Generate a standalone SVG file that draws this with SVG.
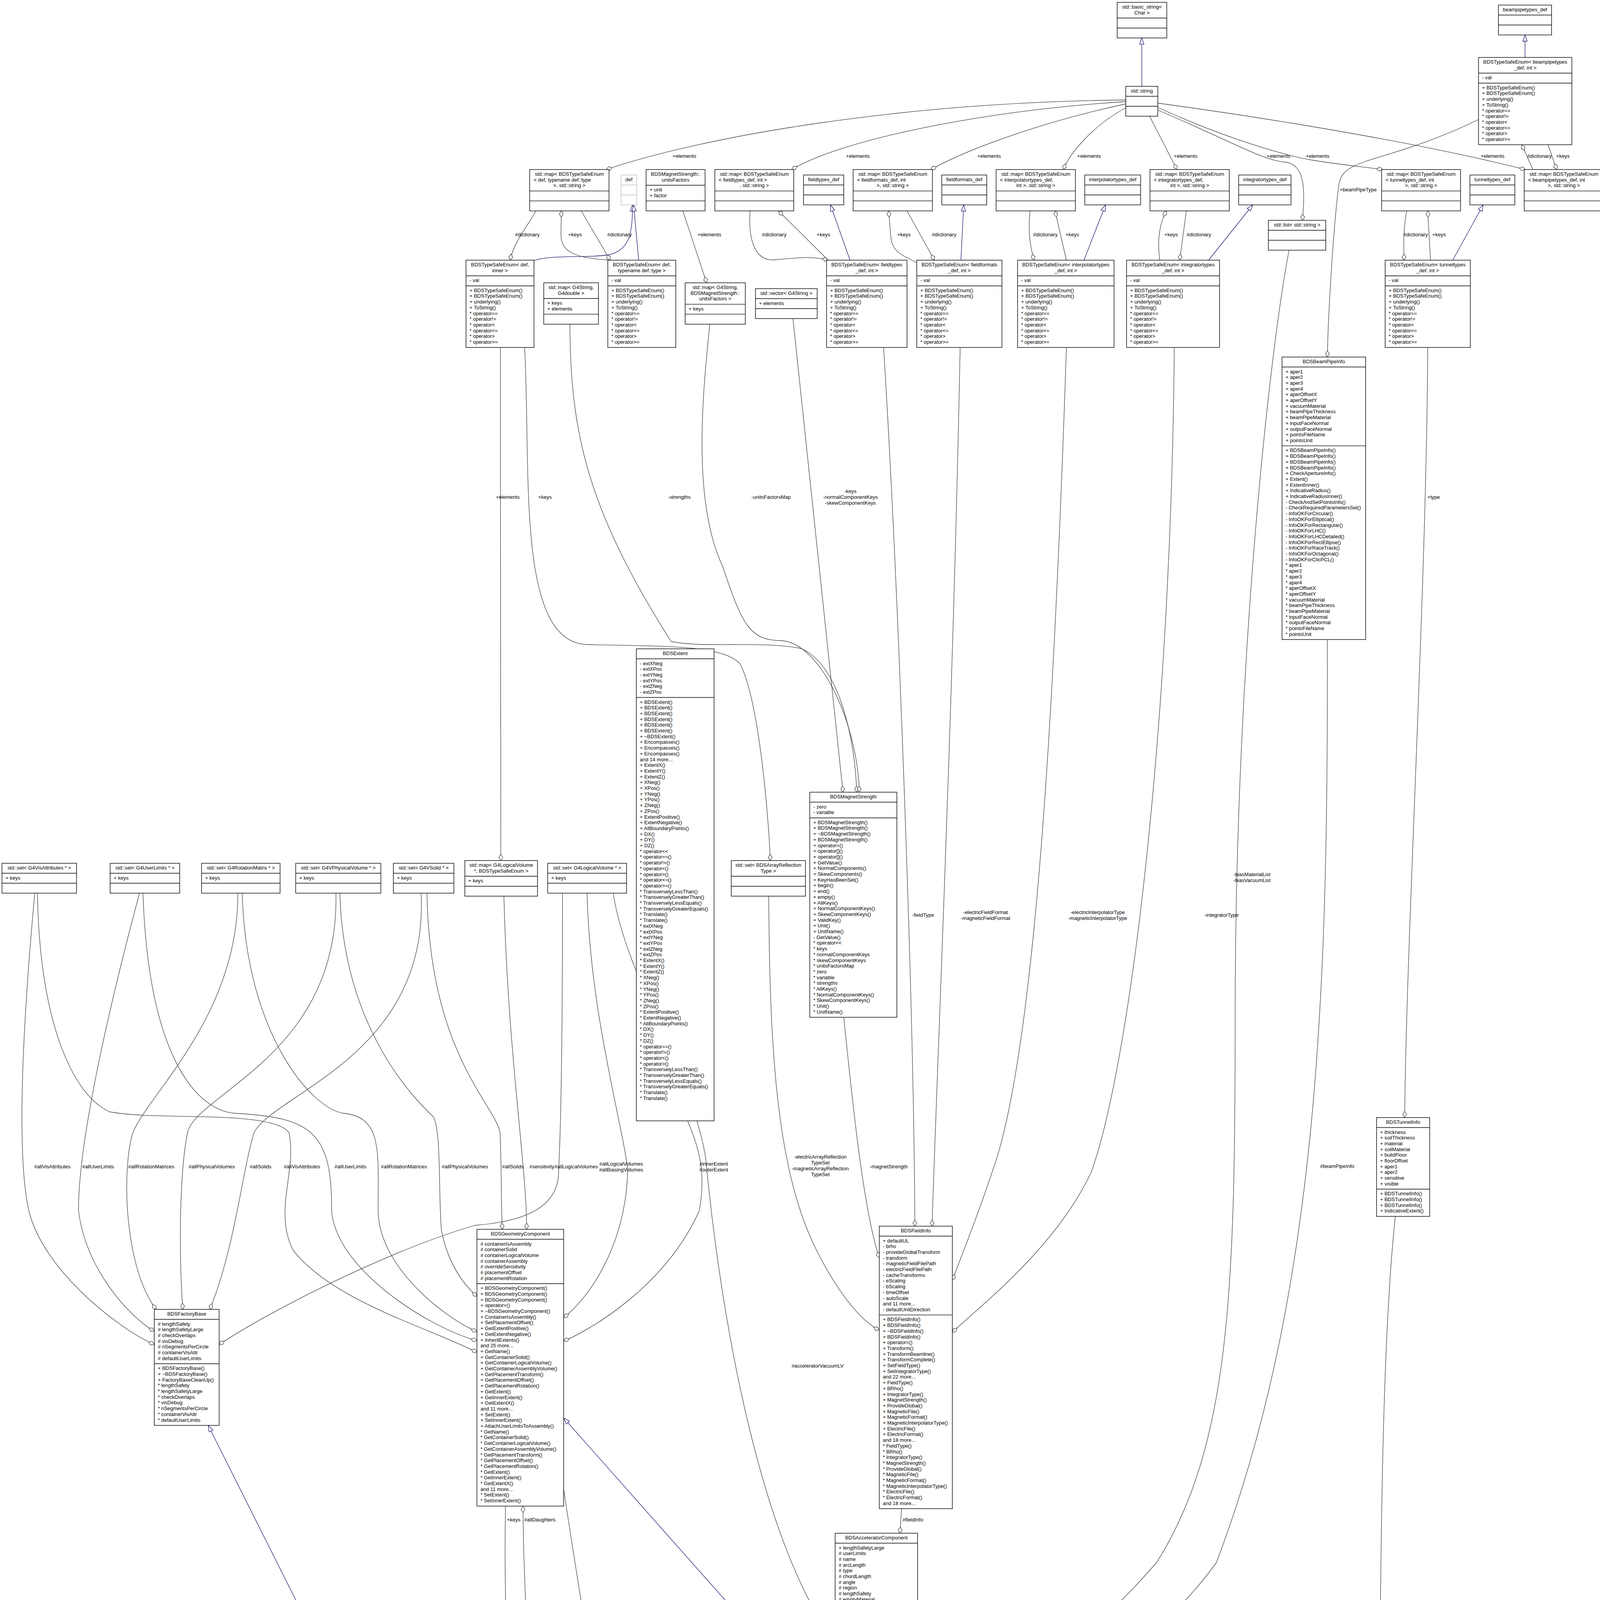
<svg xmlns="http://www.w3.org/2000/svg" width="4110" height="5988" viewBox="0 0 4110 5988">
<style>
.n{fill:#fff;stroke:#000;stroke-width:1.4}
.g{fill:#bfbfbf;stroke:#000;stroke-width:1.4}
.d{fill:#fff;stroke:#bfbfbf;stroke-width:1.4}
.s{stroke:#000;stroke-width:1.4}
.sd{stroke:#bfbfbf;stroke-width:1.4}
text{font-family:"Liberation Sans",Arial,Helvetica,sans-serif;font-size:13px;fill:#000}
.m{text-anchor:middle}
.a{fill:none;stroke:#404040;stroke-width:1.3;marker-end:url(#dia)}
.h{fill:none;stroke:#191970;stroke-width:1.3;marker-end:url(#tri)}
</style>
<defs>
<marker id="dia" markerUnits="userSpaceOnUse" markerWidth="18" markerHeight="12" refX="16" refY="5" orient="auto" style="overflow:visible"><path d="M0,5 L8,0 L16,5 L8,10 Z" fill="#fff" stroke="#404040" stroke-width="1.3"/></marker>
<marker id="tri" markerUnits="userSpaceOnUse" markerWidth="18" markerHeight="12" refX="16" refY="5.5" orient="auto" style="overflow:visible"><path d="M0,0 L16,5.5 L0,11 Z" fill="#fff" stroke="#191970" stroke-width="1.3"/></marker>
</defs>
<rect x="0" y="0" width="4110" height="5988" fill="#fff"/>

<g id="connectors">
<path class="h" d="M2923,221 L2923,97.2"/>
<path class="h" d="M3904,147 L3904,89.5"/>
<path class="h" d="M1362,668 C1420,650 1500,662 1560,652 C1610,640 1620,600 1619,524.5"/>
<path class="h" d="M1635,666 L1622,524.5"/>
<path class="h" d="M2176,666 L2126,524.5"/>
<path class="h" d="M2460,666 L2467,524.5"/>
<path class="h" d="M2775,666 L2830,524.5"/>
<path class="h" d="M3094,666 L3207,524.5"/>
<path class="h" d="M3719,666 L3797,524.5"/>
<path class="h" d="M2138,4414 L1443,3630"/>
<path class="h" d="M1912,5225 L2138,4762"/>
<path class="h" d="M2276,5240 C2282,5200 2283,5175 2283,5148"/>
<path class="h" d="M1517,5611 L533,3649"/>
<path class="a" d="M2882,256 C2300,262 1800,350 1552,434"/>
<path class="a" d="M2882,260 C2500,285 2150,360 2027,434"/>
<path class="a" d="M2882,266 C2700,305 2500,370 2383,434"/>
<path class="a" d="M2882,276 C2800,320 2740,390 2722,434"/>
<path class="a" d="M2943,297.5 L3013,434"/>
<path class="a" d="M2964,282 C3150,360 3230,410 3290,415 C3345,420 3340,500 3334,564"/>
<path class="a" d="M2964,275 C3150,360 3300,400 3360,410 C3420,420 3470,425 3540,434"/>
<path class="a" d="M2964,264 C3300,310 3650,370 3905,434"/>
<path class="a" d="M1372,540 C1350,580 1315,620 1306,666"/>
<path class="a" d="M1560,666 C1480,660 1436,650 1436,600 L1437,540"/>
<path class="a" d="M1488,540 L1562,666"/>
<path class="a" d="M1920,540 C1915,620 1935,670 1985,665 C2040,660 2080,655 2120,666"/>
<path class="a" d="M2120,666 L1993,540"/>
<path class="a" d="M2349,673 C2300,650 2282,640 2280,600 L2275,540"/>
<path class="a" d="M2322,540 L2392,666"/>
<path class="a" d="M2637,540 C2630,600 2640,640 2647,666"/>
<path class="a" d="M2730,666 L2701,540"/>
<path class="a" d="M2969,666 C2960,600 2975,560 2986,540"/>
<path class="a" d="M3037,540 L3020,666"/>
<path class="a" d="M3601,540 C3590,600 3595,640 3594,666"/>
<path class="a" d="M3662,666 L3655,540"/>
<path class="a" d="M3924,434 L3896,370.5"/>
<path class="a" d="M3963,370.5 L3985,434"/>
<path class="a" d="M3785,306 C3550,420 3440,400 3428,470 C3415,560 3400,800 3398,914"/>
<path class="a" d="M1748,540 L1809,724"/>
<path class="a" d="M1281,889.5 L1282,2203"/>
<path class="a" d="M1343,889.5 C1360,1200 1320,1640 1500,1650 C1700,1655 1850,1650 1895,1700 C1945,1800 1968,2100 1972,2203"/>
<path class="a" d="M1459,830 C1460,1100 1500,1300 1718,1642 C1800,1660 1950,1640 2050,1660 C2150,1700 2190,1900 2193,2028"/>
<path class="a" d="M1817,830 C1800,1000 1770,1280 1850,1450 C1900,1600 1920,1640 2000,1640 C2100,1645 2195,1850 2200,2028"/>
<path class="a" d="M2030,816 L2158,2028"/>
<path class="a" d="M2262,889.5 C2300,1500 2340,2600 2342,3139"/>
<path class="a" d="M2458,889.5 C2440,1800 2400,2700 2386,3139"/>
<path class="a" d="M2730,889.5 C2700,1800 2650,2700 2540,3000 C2500,3120 2460,3220 2438,3277"/>
<path class="a" d="M3006,889.5 C3000,1800 2900,2700 2794,3000 C2700,3200 2500,3350 2438,3411"/>
<path class="a" d="M2160,2604 C2180,2800 2210,3100 2251,3220"/>
<path class="a" d="M1968,2294 C1970,2700 1990,3000 2090,3200 C2140,3300 2200,3380 2251,3405"/>
<path class="a" d="M3300,640.5 C3250,900 3162,1700 3162,2600 C3162,3300 3150,3700 2961,4000 C2700,4300 2450,4420 2349,4475"/>
<path class="a" d="M3398,1637 C3400,2500 3380,3300 3114,4000 C2900,4300 2500,4450 2349,4494"/>
<path class="a" d="M3655,889.5 C3652,1500 3600,2400 3596,2861"/>
<path class="a" d="M3572,3114 C3520,3600 3540,4600 3520,4980 C3490,5400 3000,5680 2500,5708 C2100,5730 1900,5740 1735,5746"/>
<path class="a" d="M89,2287 C60,2600 40,2950 74,3100 C110,3250 300,3400 395,3442"/>
<path class="a" d="M357,2287 C300,2500 200,2900 201,3100 C220,3250 330,3370 395,3408"/>
<path class="a" d="M609,2287 C610,2600 380,2800 340,2900 C310,3000 320,3250 400,3352"/>
<path class="a" d="M860,2287 C870,2700 500,2800 480,2900 C460,3000 457,3200 468,3352"/>
<path class="a" d="M1078,2287 C1100,2700 700,2800 650,2900 C620,3000 600,3200 537,3352"/>
<path class="a" d="M1440,2287 C1440,2700 1435,2900 1430,3000 C1430,3110 1300,3130 1215,3137 C1000,3200 700,3350 561,3442"/>
<path class="a" d="M96,2287 C100,2600 180,2800 280,2846 C400,2870 700,2840 740,2900 C760,3000 700,3100 750,3200 C850,3330 1100,3400 1221,3462"/>
<path class="a" d="M366,2287 C380,2700 500,2840 600,2850 C800,2860 850,2900 849,3100 C860,3250 1100,3400 1221,3432"/>
<path class="a" d="M620,2287 C630,2650 800,2840 880,2850 C980,2860 968,2950 968,3100 C970,3250 1150,3380 1221,3409"/>
<path class="a" d="M870,2287 C880,2650 1080,2830 1110,2860 C1130,2900 1122,3050 1130,3150 C1150,3250 1200,3300 1221,3319"/>
<path class="a" d="M1093,2287 C1100,2700 1270,2830 1280,2900 C1285,3000 1282,3080 1286,3147"/>
<path class="a" d="M1290,2294 C1300,2700 1350,3000 1348,3147"/>
<path class="a" d="M1503,2287 C1510,2600 1600,2900 1607,3000 C1600,3200 1500,3330 1443,3373"/>
<path class="a" d="M1760,2869 C1790,2940 1808,3000 1790,3100 C1700,3300 1500,3410 1443,3433"/>
<path class="a" d="M1570,2287 C1600,2500 1800,2800 1810,3000 C1850,3400 1950,3950 2138,4206"/>
<path class="a" d="M2308,3862 L2304,3925"/>
<path class="a" d="M1294,3856 C1290,4100 1300,4300 1305,4400"/>
<path class="a" d="M1360,4400 C1350,4200 1339,4000 1339,3856"/>
<path class="a" d="M1443,3812 C1500,4200 1580,4600 1600,5000 C1612,5300 1620,5450 1621,5499"/>
<path class="a" d="M1803,5434 L1737,5548"/>
<path class="a" d="M2195,5240 C2185,5200 2185,5175 2185,5148"/>
<text class="m" x="1752" y="404">+elements</text>
<text class="m" x="2196" y="404">+elements</text>
<text class="m" x="2532" y="404">+elements</text>
<text class="m" x="2788" y="404">+elements</text>
<text class="m" x="3035" y="404">+elements</text>
<text class="m" x="3273" y="404">+elements</text>
<text class="m" x="3373" y="404">+elements</text>
<text class="m" x="3821" y="404">+elements</text>
<text class="m" x="3941" y="404">#dictionary</text>
<text class="m" x="4001" y="404">+keys</text>
<text class="m" x="3477" y="490">+beamPipeType</text>
<text class="m" x="1350" y="605">#dictionary</text>
<text class="m" x="1472" y="605">+keys</text>
<text class="m" x="1586" y="605">#dictionary</text>
<text class="m" x="1816" y="605">+elements</text>
<text class="m" x="1982" y="605">#dictionary</text>
<text class="m" x="2108" y="605">+keys</text>
<text class="m" x="2314" y="605">+keys</text>
<text class="m" x="2417" y="605">#dictionary</text>
<text class="m" x="2676" y="605">#dictionary</text>
<text class="m" x="2745" y="605">+keys</text>
<text class="m" x="2998" y="605">+keys</text>
<text class="m" x="3069" y="605">#dictionary</text>
<text class="m" x="3624" y="605">#dictionary</text>
<text class="m" x="3684" y="605">+keys</text>
<text class="m" x="1300" y="1277">+elements</text>
<text class="m" x="1395" y="1277">+keys</text>
<text class="m" x="1739" y="1277">-strengths</text>
<text class="m" x="1974" y="1277">-unitsFactorsMap</text>
<text class="m" x="2177" y="1262">-keys</text>
<text class="m" x="2177" y="1277">-normalComponentKeys</text>
<text class="m" x="2177" y="1292">-skewComponentKeys</text>
<text class="m" x="3670" y="1277">+type</text>
<text class="m" x="3205" y="2243">-biasMaterialList</text>
<text class="m" x="3205" y="2258">-biasVacuumList</text>
<text class="m" x="2363" y="2347">-fieldType</text>
<text class="m" x="2523" y="2340">-electricFieldFormat</text>
<text class="m" x="2523" y="2355">-magneticFieldFormat</text>
<text class="m" x="2810" y="2340">-electricInterpolatorType</text>
<text class="m" x="2810" y="2355">-magneticInterpolatorType</text>
<text class="m" x="3127" y="2347">-integratorType</text>
<text class="m" x="134" y="2991">#allVisAttributes</text>
<text class="m" x="251" y="2991">#allUserLimits</text>
<text class="m" x="387" y="2991">#allRotationMatrices</text>
<text class="m" x="542" y="2991">#allPhysicalVolumes</text>
<text class="m" x="667" y="2991">#allSolids</text>
<text class="m" x="773" y="2991">#allVisAttributes</text>
<text class="m" x="897" y="2991">#allUserLimits</text>
<text class="m" x="1034" y="2991">#allRotationMatrices</text>
<text class="m" x="1190" y="2991">#allPhysicalVolumes</text>
<text class="m" x="1313" y="2991">#allSolids</text>
<text class="m" x="1387" y="2991">#sensitivity</text>
<text class="m" x="1475" y="2991">#allLogicalVolumes</text>
<text class="m" x="1590" y="2984">#allLogicalVolumes</text>
<text class="m" x="1590" y="2999">#allBiasingVolumes</text>
<text class="m" x="1827" y="2984">#innerExtent</text>
<text class="m" x="1827" y="2999">#outerExtent</text>
<text class="m" x="2100" y="2966">-electricArrayReflection</text>
<text class="m" x="2100" y="2981">TypeSet</text>
<text class="m" x="2100" y="2996">-magneticArrayReflection</text>
<text class="m" x="2100" y="3011">TypeSet</text>
<text class="m" x="2275" y="2991">-magnetStrength</text>
<text class="m" x="3423" y="2990">#beamPipeInfo</text>
<text class="m" x="2093" y="3501">#acceleratorVacuumLV</text>
<text class="m" x="2337" y="3895">#fieldInfo</text>
<text class="m" x="1315" y="3895">+keys</text>
<text class="m" x="1382" y="3895">#allDaughters</text>
<text class="m" x="3580" y="4974">#defaultModel</text>
<text class="m" x="1670" y="5188">#tunnelComponent</text>
<text class="m" x="2237" y="5180">#endPieceAfter</text>
<text class="m" x="2237" y="5195">#endPieceBefore</text>
<text class="m" x="1833" y="5470">#tunnelSection</text>
</g>

<g id="basic_string">
<rect class="n" x="2860" y="6" width="127" height="91.2"/>
<line class="s" x1="2860" y1="46.2" x2="2987" y2="46.2"/><line class="s" x1="2860" y1="71.7" x2="2987" y2="71.7"/>
<text class="m" x="2923.5" y="22">std::basic_string&lt;</text><text class="m" x="2923.5" y="36.7">Char &gt;</text>
</g>
<g id="beampipetypes_def">
<rect class="n" x="3836" y="13" width="136" height="76.5"/>
<line class="s" x1="3836" y1="38.5" x2="3972" y2="38.5"/><line class="s" x1="3836" y1="64" x2="3972" y2="64"/>
<text class="m" x="3904" y="29">beampipetypes_def</text>
</g>
<g id="std_string">
<rect class="n" x="2882" y="221" width="82" height="76.5"/>
<line class="s" x1="2882" y1="246.5" x2="2964" y2="246.5"/><line class="s" x1="2882" y1="272" x2="2964" y2="272"/>
<text class="m" x="2923" y="237">std::string</text>
</g>
<g id="tse_beampipe">
<rect class="n" x="3785" y="147" width="239" height="223.5"/>
<line class="s" x1="3785" y1="187.2" x2="4024" y2="187.2"/><line class="s" x1="3785" y1="212.7" x2="4024" y2="212.7"/>
<text class="m" x="3904.5" y="163">BDSTypeSafeEnum&lt; beampipetypes</text><text class="m" x="3904.5" y="177.7">_def, int &gt;</text>
<text x="3794" y="203.2">- val</text>
<text x="3794" y="228.7">+ BDSTypeSafeEnum()<tspan x="3794" dy="14.7">+ BDSTypeSafeEnum()</tspan><tspan x="3794" dy="14.7">+ underlying()</tspan><tspan x="3794" dy="14.7">+ ToString()</tspan><tspan x="3794" dy="14.7">* operator==</tspan><tspan x="3794" dy="14.7">* operator!=</tspan><tspan x="3794" dy="14.7">* operator&lt;</tspan><tspan x="3794" dy="14.7">* operator&lt;=</tspan><tspan x="3794" dy="14.7">* operator&gt;</tspan><tspan x="3794" dy="14.7">* operator&gt;=</tspan></text>
</g>

<g id="map_def">
<rect class="n" x="1356" y="434" width="203" height="105.9"/>
<line class="s" x1="1356" y1="488.9" x2="1559" y2="488.9"/><line class="s" x1="1356" y1="514.4" x2="1559" y2="514.4"/>
<text class="m" x="1457.5" y="450">std::map&lt; BDSTypeSafeEnum</text><text x="1366" y="464.7">&lt; def, typename def::type</text><text class="m" x="1457.5" y="479.4">&gt;, std::string &gt;</text>
</g>
<g id="def">
<rect class="d" x="1590" y="448" width="40" height="76.5"/>
<line class="sd" x1="1590" y1="473.5" x2="1630" y2="473.5"/><line class="sd" x1="1590" y1="499" x2="1630" y2="499"/>
<text class="m" x="1610" y="464">def</text>
</g>
<g id="unitsFactors">
<rect class="n" x="1654" y="434" width="151" height="105.9"/>
<line class="s" x1="1654" y1="474.2" x2="1805" y2="474.2"/><line class="s" x1="1654" y1="514.4" x2="1805" y2="514.4"/>
<text class="m" x="1729.5" y="450">BDSMagnetStrength::</text><text class="m" x="1729.5" y="464.7">unitsFactors</text>
<text x="1663" y="490.2">+ unit<tspan x="1663" dy="14.7">+ factor</tspan></text>
</g>
<g id="map_fieldtypes">
<rect class="n" x="1830" y="434" width="202" height="105.9"/>
<line class="s" x1="1830" y1="488.9" x2="2032" y2="488.9"/><line class="s" x1="1830" y1="514.4" x2="2032" y2="514.4"/>
<text class="m" x="1931" y="450">std::map&lt; BDSTypeSafeEnum</text><text x="1840" y="464.7">&lt; fieldtypes_def, int &gt;</text><text class="m" x="1931" y="479.4">, std::string &gt;</text>
</g>
<g id="fieldtypes_def">
<rect class="n" x="2057" y="448" width="103" height="76.5"/>
<line class="s" x1="2057" y1="473.5" x2="2160" y2="473.5"/><line class="s" x1="2057" y1="499" x2="2160" y2="499"/>
<text class="m" x="2108.5" y="464">fieldtypes_def</text>
</g>
<g id="map_fieldformats">
<rect class="n" x="2184" y="434" width="203" height="105.9"/>
<line class="s" x1="2184" y1="488.9" x2="2387" y2="488.9"/><line class="s" x1="2184" y1="514.4" x2="2387" y2="514.4"/>
<text class="m" x="2285.5" y="450">std::map&lt; BDSTypeSafeEnum</text><text x="2194" y="464.7">&lt; fieldformats_def, int</text><text class="m" x="2285.5" y="479.4">&gt;, std::string &gt;</text>
</g>
<g id="fieldformats_def">
<rect class="n" x="2411" y="448" width="115" height="76.5"/>
<line class="s" x1="2411" y1="473.5" x2="2526" y2="473.5"/><line class="s" x1="2411" y1="499" x2="2526" y2="499"/>
<text class="m" x="2468.5" y="464">fieldformats_def</text>
</g>
<g id="map_interp">
<rect class="n" x="2550" y="434" width="203" height="105.9"/>
<line class="s" x1="2550" y1="488.9" x2="2753" y2="488.9"/><line class="s" x1="2550" y1="514.4" x2="2753" y2="514.4"/>
<text class="m" x="2651.5" y="450">std::map&lt; BDSTypeSafeEnum</text><text x="2560" y="464.7">&lt; interpolatortypes_def,</text><text class="m" x="2651.5" y="479.4">int &gt;, std::string &gt;</text>
</g>
<g id="interpolatortypes_def">
<rect class="n" x="2777" y="448" width="143" height="76.5"/>
<line class="s" x1="2777" y1="473.5" x2="2920" y2="473.5"/><line class="s" x1="2777" y1="499" x2="2920" y2="499"/>
<text class="m" x="2848.5" y="464">interpolatortypes_def</text>
</g>
<g id="map_integ">
<rect class="n" x="2944" y="434" width="203" height="105.9"/>
<line class="s" x1="2944" y1="488.9" x2="3147" y2="488.9"/><line class="s" x1="2944" y1="514.4" x2="3147" y2="514.4"/>
<text class="m" x="3045.5" y="450">std::map&lt; BDSTypeSafeEnum</text><text x="2954" y="464.7">&lt; integratortypes_def,</text><text class="m" x="3045.5" y="479.4">int &gt;, std::string &gt;</text>
</g>
<g id="integratortypes_def">
<rect class="n" x="3171" y="448" width="134" height="76.5"/>
<line class="s" x1="3171" y1="473.5" x2="3305" y2="473.5"/><line class="s" x1="3171" y1="499" x2="3305" y2="499"/>
<text class="m" x="3238" y="464">integratortypes_def</text>
</g>
<g id="list_string">
<rect class="n" x="3247" y="564" width="147" height="76.5"/>
<line class="s" x1="3247" y1="589.5" x2="3394" y2="589.5"/><line class="s" x1="3247" y1="615" x2="3394" y2="615"/>
<text class="m" x="3320.5" y="580">std::list&lt; std::string &gt;</text>
</g>
<g id="map_tunnel">
<rect class="n" x="3537" y="434" width="202" height="105.9"/>
<line class="s" x1="3537" y1="488.9" x2="3739" y2="488.9"/><line class="s" x1="3537" y1="514.4" x2="3739" y2="514.4"/>
<text class="m" x="3638" y="450">std::map&lt; BDSTypeSafeEnum</text><text x="3547" y="464.7">&lt; tunneltypes_def, int</text><text class="m" x="3638" y="479.4">&gt;, std::string &gt;</text>
</g>
<g id="tunneltypes_def">
<rect class="n" x="3763" y="448" width="115" height="76.5"/>
<line class="s" x1="3763" y1="473.5" x2="3878" y2="473.5"/><line class="s" x1="3763" y1="499" x2="3878" y2="499"/>
<text class="m" x="3820.5" y="464">tunneltypes_def</text>
</g>
<g id="map_beampipe">
<rect class="n" x="3902" y="434" width="203" height="105.9"/>
<line class="s" x1="3902" y1="488.9" x2="4105" y2="488.9"/><line class="s" x1="3902" y1="514.4" x2="4105" y2="514.4"/>
<text class="m" x="4003.5" y="450">std::map&lt; BDSTypeSafeEnum</text><text x="3912" y="464.7">&lt; beampipetypes_def, int</text><text class="m" x="4003.5" y="479.4">&gt;, std::string &gt;</text>
</g>

<g id="tse_inner">
<rect class="n" x="1193" y="666" width="174" height="223.5"/>
<line class="s" x1="1193" y1="706.2" x2="1367" y2="706.2"/><line class="s" x1="1193" y1="731.7" x2="1367" y2="731.7"/>
<text class="m" x="1280" y="682">BDSTypeSafeEnum&lt; def,</text><text class="m" x="1280" y="696.7">inner &gt;</text>
<text x="1202" y="722.2">- val</text>
<text x="1202" y="747.7">+ BDSTypeSafeEnum()<tspan x="1202" dy="14.7">+ BDSTypeSafeEnum()</tspan><tspan x="1202" dy="14.7">+ underlying()</tspan><tspan x="1202" dy="14.7">+ ToString()</tspan><tspan x="1202" dy="14.7">* operator==</tspan><tspan x="1202" dy="14.7">* operator!=</tspan><tspan x="1202" dy="14.7">* operator&lt;</tspan><tspan x="1202" dy="14.7">* operator&lt;=</tspan><tspan x="1202" dy="14.7">* operator&gt;</tspan><tspan x="1202" dy="14.7">* operator&gt;=</tspan></text>
</g>
<g id="tse_def">
<rect class="n" x="1556" y="666" width="174" height="223.5"/>
<line class="s" x1="1556" y1="706.2" x2="1730" y2="706.2"/><line class="s" x1="1556" y1="731.7" x2="1730" y2="731.7"/>
<text class="m" x="1643" y="682">BDSTypeSafeEnum&lt; def,</text><text class="m" x="1643" y="696.7">typename def::type &gt;</text>
<text x="1565" y="722.2">- val</text>
<text x="1565" y="747.7">+ BDSTypeSafeEnum()<tspan x="1565" dy="14.7">+ BDSTypeSafeEnum()</tspan><tspan x="1565" dy="14.7">+ underlying()</tspan><tspan x="1565" dy="14.7">+ ToString()</tspan><tspan x="1565" dy="14.7">* operator==</tspan><tspan x="1565" dy="14.7">* operator!=</tspan><tspan x="1565" dy="14.7">* operator&lt;</tspan><tspan x="1565" dy="14.7">* operator&lt;=</tspan><tspan x="1565" dy="14.7">* operator&gt;</tspan><tspan x="1565" dy="14.7">* operator&gt;=</tspan></text>
</g>
<g id="tse_fieldtypes">
<rect class="n" x="2116" y="666" width="206" height="223.5"/>
<line class="s" x1="2116" y1="706.2" x2="2322" y2="706.2"/><line class="s" x1="2116" y1="731.7" x2="2322" y2="731.7"/>
<text class="m" x="2219" y="682">BDSTypeSafeEnum&lt; fieldtypes</text><text class="m" x="2219" y="696.7">_def, int &gt;</text>
<text x="2125" y="722.2">- val</text>
<text x="2125" y="747.7">+ BDSTypeSafeEnum()<tspan x="2125" dy="14.7">+ BDSTypeSafeEnum()</tspan><tspan x="2125" dy="14.7">+ underlying()</tspan><tspan x="2125" dy="14.7">+ ToString()</tspan><tspan x="2125" dy="14.7">* operator==</tspan><tspan x="2125" dy="14.7">* operator!=</tspan><tspan x="2125" dy="14.7">* operator&lt;</tspan><tspan x="2125" dy="14.7">* operator&lt;=</tspan><tspan x="2125" dy="14.7">* operator&gt;</tspan><tspan x="2125" dy="14.7">* operator&gt;=</tspan></text>
</g>
<g id="tse_fieldformats">
<rect class="n" x="2347" y="666" width="218" height="223.5"/>
<line class="s" x1="2347" y1="706.2" x2="2565" y2="706.2"/><line class="s" x1="2347" y1="731.7" x2="2565" y2="731.7"/>
<text class="m" x="2456" y="682">BDSTypeSafeEnum&lt; fieldformats</text><text class="m" x="2456" y="696.7">_def, int &gt;</text>
<text x="2356" y="722.2">- val</text>
<text x="2356" y="747.7">+ BDSTypeSafeEnum()<tspan x="2356" dy="14.7">+ BDSTypeSafeEnum()</tspan><tspan x="2356" dy="14.7">+ underlying()</tspan><tspan x="2356" dy="14.7">+ ToString()</tspan><tspan x="2356" dy="14.7">* operator==</tspan><tspan x="2356" dy="14.7">* operator!=</tspan><tspan x="2356" dy="14.7">* operator&lt;</tspan><tspan x="2356" dy="14.7">* operator&lt;=</tspan><tspan x="2356" dy="14.7">* operator&gt;</tspan><tspan x="2356" dy="14.7">* operator&gt;=</tspan></text>
</g>
<g id="tse_interp">
<rect class="n" x="2605" y="666" width="247" height="223.5"/>
<line class="s" x1="2605" y1="706.2" x2="2852" y2="706.2"/><line class="s" x1="2605" y1="731.7" x2="2852" y2="731.7"/>
<text class="m" x="2728.5" y="682">BDSTypeSafeEnum&lt; interpolatortypes</text><text class="m" x="2728.5" y="696.7">_def, int &gt;</text>
<text x="2614" y="722.2">- val</text>
<text x="2614" y="747.7">+ BDSTypeSafeEnum()<tspan x="2614" dy="14.7">+ BDSTypeSafeEnum()</tspan><tspan x="2614" dy="14.7">+ underlying()</tspan><tspan x="2614" dy="14.7">+ ToString()</tspan><tspan x="2614" dy="14.7">* operator==</tspan><tspan x="2614" dy="14.7">* operator!=</tspan><tspan x="2614" dy="14.7">* operator&lt;</tspan><tspan x="2614" dy="14.7">* operator&lt;=</tspan><tspan x="2614" dy="14.7">* operator&gt;</tspan><tspan x="2614" dy="14.7">* operator&gt;=</tspan></text>
</g>
<g id="tse_integ">
<rect class="n" x="2884" y="666" width="238" height="223.5"/>
<line class="s" x1="2884" y1="706.2" x2="3122" y2="706.2"/><line class="s" x1="2884" y1="731.7" x2="3122" y2="731.7"/>
<text class="m" x="3003" y="682">BDSTypeSafeEnum&lt; integratortypes</text><text class="m" x="3003" y="696.7">_def, int &gt;</text>
<text x="2893" y="722.2">- val</text>
<text x="2893" y="747.7">+ BDSTypeSafeEnum()<tspan x="2893" dy="14.7">+ BDSTypeSafeEnum()</tspan><tspan x="2893" dy="14.7">+ underlying()</tspan><tspan x="2893" dy="14.7">+ ToString()</tspan><tspan x="2893" dy="14.7">* operator==</tspan><tspan x="2893" dy="14.7">* operator!=</tspan><tspan x="2893" dy="14.7">* operator&lt;</tspan><tspan x="2893" dy="14.7">* operator&lt;=</tspan><tspan x="2893" dy="14.7">* operator&gt;</tspan><tspan x="2893" dy="14.7">* operator&gt;=</tspan></text>
</g>
<g id="tse_tunnel">
<rect class="n" x="3546" y="666" width="218" height="223.5"/>
<line class="s" x1="3546" y1="706.2" x2="3764" y2="706.2"/><line class="s" x1="3546" y1="731.7" x2="3764" y2="731.7"/>
<text class="m" x="3655" y="682">BDSTypeSafeEnum&lt; tunneltypes</text><text class="m" x="3655" y="696.7">_def, int &gt;</text>
<text x="3555" y="722.2">- val</text>
<text x="3555" y="747.7">+ BDSTypeSafeEnum()<tspan x="3555" dy="14.7">+ BDSTypeSafeEnum()</tspan><tspan x="3555" dy="14.7">+ underlying()</tspan><tspan x="3555" dy="14.7">+ ToString()</tspan><tspan x="3555" dy="14.7">* operator==</tspan><tspan x="3555" dy="14.7">* operator!=</tspan><tspan x="3555" dy="14.7">* operator&lt;</tspan><tspan x="3555" dy="14.7">* operator&lt;=</tspan><tspan x="3555" dy="14.7">* operator&gt;</tspan><tspan x="3555" dy="14.7">* operator&gt;=</tspan></text>
</g>

<g id="map_g4double">
<rect class="n" x="1392" y="724" width="140" height="105.9"/>
<line class="s" x1="1392" y1="764.2" x2="1532" y2="764.2"/><line class="s" x1="1392" y1="804.4" x2="1532" y2="804.4"/>
<text class="m" x="1462" y="740">std::map&lt; G4String,</text><text class="m" x="1462" y="754.7">G4double &gt;</text>
<text x="1401" y="780.2">+ keys<tspan x="1401" dy="14.7">+ elements</tspan></text>
</g>
<g id="map_unitsfactors">
<rect class="n" x="1754" y="724" width="154" height="105.9"/>
<line class="s" x1="1754" y1="778.9" x2="1908" y2="778.9"/><line class="s" x1="1754" y1="804.4" x2="1908" y2="804.4"/>
<text class="m" x="1831" y="740">std::map&lt; G4String,</text><text class="m" x="1831" y="754.7">BDSMagnetStrength::</text><text class="m" x="1831" y="769.4">unitsFactors &gt;</text>
<text x="1763" y="794.9">+ keys</text>
</g>
<g id="vector_g4string">
<rect class="n" x="1934" y="739" width="158" height="76.5"/>
<line class="s" x1="1934" y1="764.5" x2="2092" y2="764.5"/><line class="s" x1="1934" y1="790" x2="2092" y2="790"/>
<text class="m" x="2013" y="755">std::vector&lt; G4String &gt;</text>
<text x="1943" y="780.5">+ elements</text>
</g>

<g id="BDSBeamPipeInfo">
<rect class="n" x="3282" y="914" width="214" height="723.3"/>
<line class="s" x1="3282" y1="939.5" x2="3496" y2="939.5"/><line class="s" x1="3282" y1="1141.4" x2="3496" y2="1141.4"/>
<text class="m" x="3389" y="930">BDSBeamPipeInfo</text>
<text x="3291" y="955.5">+ aper1<tspan x="3291" dy="14.7">+ aper2</tspan><tspan x="3291" dy="14.7">+ aper3</tspan><tspan x="3291" dy="14.7">+ aper4</tspan><tspan x="3291" dy="14.7">+ aperOffsetX</tspan><tspan x="3291" dy="14.7">+ aperOffsetY</tspan><tspan x="3291" dy="14.7">+ vacuumMaterial</tspan><tspan x="3291" dy="14.7">+ beamPipeThickness</tspan><tspan x="3291" dy="14.7">+ beamPipeMaterial</tspan><tspan x="3291" dy="14.7">+ inputFaceNormal</tspan><tspan x="3291" dy="14.7">+ outputFaceNormal</tspan><tspan x="3291" dy="14.7">+ pointsFileName</tspan><tspan x="3291" dy="14.7">+ pointsUnit</tspan></text>
<text x="3291" y="1157.4">+ BDSBeamPipeInfo()<tspan x="3291" dy="14.7">+ BDSBeamPipeInfo()</tspan><tspan x="3291" dy="14.7">+ BDSBeamPipeInfo()</tspan><tspan x="3291" dy="14.7">+ BDSBeamPipeInfo()</tspan><tspan x="3291" dy="14.7">+ CheckApertureInfo()</tspan><tspan x="3291" dy="14.7">+ Extent()</tspan><tspan x="3291" dy="14.7">+ ExtentInner()</tspan><tspan x="3291" dy="14.7">+ IndicativeRadius()</tspan><tspan x="3291" dy="14.7">+ IndicativeRadiusInner()</tspan><tspan x="3291" dy="14.7">- CheckAndSetPointsInfo()</tspan><tspan x="3291" dy="14.7">- CheckRequiredParametersSet()</tspan><tspan x="3291" dy="14.7">- InfoOKForCircular()</tspan><tspan x="3291" dy="14.7">- InfoOKForElliptical()</tspan><tspan x="3291" dy="14.7">- InfoOKForRectangular()</tspan><tspan x="3291" dy="14.7">- InfoOKForLHC()</tspan><tspan x="3291" dy="14.7">- InfoOKForLHCDetailed()</tspan><tspan x="3291" dy="14.7">- InfoOKForRectEllipse()</tspan><tspan x="3291" dy="14.7">- InfoOKForRaceTrack()</tspan><tspan x="3291" dy="14.7">- InfoOKForOctagonal()</tspan><tspan x="3291" dy="14.7">- InfoOKForClicPCL()</tspan><tspan x="3291" dy="14.7">* aper1</tspan><tspan x="3291" dy="14.7">* aper2</tspan><tspan x="3291" dy="14.7">* aper3</tspan><tspan x="3291" dy="14.7">* aper4</tspan><tspan x="3291" dy="14.7">* aperOffsetX</tspan><tspan x="3291" dy="14.7">* aperOffsetY</tspan><tspan x="3291" dy="14.7">* vacuumMaterial</tspan><tspan x="3291" dy="14.7">* beamPipeThickness</tspan><tspan x="3291" dy="14.7">* beamPipeMaterial</tspan><tspan x="3291" dy="14.7">* inputFaceNormal</tspan><tspan x="3291" dy="14.7">* outputFaceNormal</tspan><tspan x="3291" dy="14.7">* pointsFileName</tspan><tspan x="3291" dy="14.7">* pointsUnit</tspan></text>
</g>

<g id="BDSExtent">
<rect class="n" x="1629" y="1661" width="199" height="1208.4"/>
<line class="s" x1="1629" y1="1686.5" x2="1828" y2="1686.5"/><line class="s" x1="1629" y1="1785.5" x2="1828" y2="1785.5"/>
<text class="m" x="1728.5" y="1677">BDSExtent</text>
<text x="1638" y="1702.5">- extXNeg<tspan x="1638" dy="14.7">- extXPos</tspan><tspan x="1638" dy="14.7">- extYNeg</tspan><tspan x="1638" dy="14.7">- extYPos</tspan><tspan x="1638" dy="14.7">- extZNeg</tspan><tspan x="1638" dy="14.7">- extZPos</tspan></text>
<text x="1638" y="1801.5">+ BDSExtent()<tspan x="1638" dy="14.7">+ BDSExtent()</tspan><tspan x="1638" dy="14.7">+ BDSExtent()</tspan><tspan x="1638" dy="14.7">+ BDSExtent()</tspan><tspan x="1638" dy="14.7">+ BDSExtent()</tspan><tspan x="1638" dy="14.7">+ BDSExtent()</tspan><tspan x="1638" dy="14.7">+ ~BDSExtent()</tspan><tspan x="1638" dy="14.7">+ Encompasses()</tspan><tspan x="1638" dy="14.7">+ Encompasses()</tspan><tspan x="1638" dy="14.7">+ Encompasses()</tspan><tspan x="1638" dy="14.7">and 14 more...</tspan><tspan x="1638" dy="14.7">+ ExtentX()</tspan><tspan x="1638" dy="14.7">+ ExtentY()</tspan><tspan x="1638" dy="14.7">+ ExtentZ()</tspan><tspan x="1638" dy="14.7">+ XNeg()</tspan><tspan x="1638" dy="14.7">+ XPos()</tspan><tspan x="1638" dy="14.7">+ YNeg()</tspan><tspan x="1638" dy="14.7">+ YPos()</tspan><tspan x="1638" dy="14.7">+ ZNeg()</tspan><tspan x="1638" dy="14.7">+ ZPos()</tspan><tspan x="1638" dy="14.7">+ ExtentPositive()</tspan><tspan x="1638" dy="14.7">+ ExtentNegative()</tspan><tspan x="1638" dy="14.7">+ AllBoundaryPoints()</tspan><tspan x="1638" dy="14.7">+ DX()</tspan><tspan x="1638" dy="14.7">+ DY()</tspan><tspan x="1638" dy="14.7">+ DZ()</tspan><tspan x="1638" dy="14.7">* operator&lt;&lt;</tspan><tspan x="1638" dy="14.7">* operator==()</tspan><tspan x="1638" dy="14.7">* operator!=()</tspan><tspan x="1638" dy="14.7">* operator&lt;()</tspan><tspan x="1638" dy="14.7">* operator&gt;()</tspan><tspan x="1638" dy="14.7">* operator&lt;=()</tspan><tspan x="1638" dy="14.7">* operator&gt;=()</tspan><tspan x="1638" dy="14.7">* TransverselyLessThan()</tspan><tspan x="1638" dy="14.7">* TransverselyGreaterThan()</tspan><tspan x="1638" dy="14.7">* TransverselyLessEquals()</tspan><tspan x="1638" dy="14.7">* TransverselyGreaterEquals()</tspan><tspan x="1638" dy="14.7">* Translate()</tspan><tspan x="1638" dy="14.7">* Translate()</tspan><tspan x="1638" dy="14.7">* extXNeg</tspan><tspan x="1638" dy="14.7">* extXPos</tspan><tspan x="1638" dy="14.7">* extYNeg</tspan><tspan x="1638" dy="14.7">* extYPos</tspan><tspan x="1638" dy="14.7">* extZNeg</tspan><tspan x="1638" dy="14.7">* extZPos</tspan><tspan x="1638" dy="14.7">* ExtentX()</tspan><tspan x="1638" dy="14.7">* ExtentY()</tspan><tspan x="1638" dy="14.7">* ExtentZ()</tspan><tspan x="1638" dy="14.7">* XNeg()</tspan><tspan x="1638" dy="14.7">* XPos()</tspan><tspan x="1638" dy="14.7">* YNeg()</tspan><tspan x="1638" dy="14.7">* YPos()</tspan><tspan x="1638" dy="14.7">* ZNeg()</tspan><tspan x="1638" dy="14.7">* ZPos()</tspan><tspan x="1638" dy="14.7">* ExtentPositive()</tspan><tspan x="1638" dy="14.7">* ExtentNegative()</tspan><tspan x="1638" dy="14.7">* AllBoundaryPoints()</tspan><tspan x="1638" dy="14.7">* DX()</tspan><tspan x="1638" dy="14.7">* DY()</tspan><tspan x="1638" dy="14.7">* DZ()</tspan><tspan x="1638" dy="14.7">* operator==()</tspan><tspan x="1638" dy="14.7">* operator!=()</tspan><tspan x="1638" dy="14.7">* operator&lt;()</tspan><tspan x="1638" dy="14.7">* operator&gt;()</tspan><tspan x="1638" dy="14.7">* TransverselyLessThan()</tspan><tspan x="1638" dy="14.7">* TransverselyGreaterThan()</tspan><tspan x="1638" dy="14.7">* TransverselyLessEquals()</tspan><tspan x="1638" dy="14.7">* TransverselyGreaterEquals()</tspan><tspan x="1638" dy="14.7">* Translate()</tspan><tspan x="1638" dy="14.7">* Translate()</tspan></text>
</g>

<g id="BDSMagnetStrength">
<rect class="n" x="2073" y="2028" width="223" height="576.3"/>
<line class="s" x1="2073" y1="2053.5" x2="2296" y2="2053.5"/><line class="s" x1="2073" y1="2093.7" x2="2296" y2="2093.7"/>
<text class="m" x="2184.5" y="2044">BDSMagnetStrength</text>
<text x="2082" y="2069.5">- zero<tspan x="2082" dy="14.7">- variable</tspan></text>
<text x="2082" y="2109.7">+ BDSMagnetStrength()<tspan x="2082" dy="14.7">+ BDSMagnetStrength()</tspan><tspan x="2082" dy="14.7">+ ~BDSMagnetStrength()</tspan><tspan x="2082" dy="14.7">+ BDSMagnetStrength()</tspan><tspan x="2082" dy="14.7">+ operator=()</tspan><tspan x="2082" dy="14.7">+ operator[]()</tspan><tspan x="2082" dy="14.7">+ operator[]()</tspan><tspan x="2082" dy="14.7">+ GetValue()</tspan><tspan x="2082" dy="14.7">+ NormalComponents()</tspan><tspan x="2082" dy="14.7">+ SkewComponents()</tspan><tspan x="2082" dy="14.7">+ KeyHasBeenSet()</tspan><tspan x="2082" dy="14.7">+ begin()</tspan><tspan x="2082" dy="14.7">+ end()</tspan><tspan x="2082" dy="14.7">+ empty()</tspan><tspan x="2082" dy="14.7">+ AllKeys()</tspan><tspan x="2082" dy="14.7">+ NormalComponentKeys()</tspan><tspan x="2082" dy="14.7">+ SkewComponentKeys()</tspan><tspan x="2082" dy="14.7">+ ValidKey()</tspan><tspan x="2082" dy="14.7">+ Unit()</tspan><tspan x="2082" dy="14.7">+ UnitName()</tspan><tspan x="2082" dy="14.7">- GetValue()</tspan><tspan x="2082" dy="14.7">* operator&lt;&lt;</tspan><tspan x="2082" dy="14.7">* keys</tspan><tspan x="2082" dy="14.7">* normalComponentKeys</tspan><tspan x="2082" dy="14.7">* skewComponentKeys</tspan><tspan x="2082" dy="14.7">* unitsFactorsMap</tspan><tspan x="2082" dy="14.7">* zero</tspan><tspan x="2082" dy="14.7">* variable</tspan><tspan x="2082" dy="14.7">* strengths</tspan><tspan x="2082" dy="14.7">* AllKeys()</tspan><tspan x="2082" dy="14.7">* NormalComponentKeys()</tspan><tspan x="2082" dy="14.7">* SkewComponentKeys()</tspan><tspan x="2082" dy="14.7">* Unit()</tspan><tspan x="2082" dy="14.7">* UnitName()</tspan></text>
</g>

<g id="set_visattr">
<rect class="n" x="5" y="2210" width="191" height="76.5"/>
<line class="s" x1="5" y1="2235.5" x2="196" y2="2235.5"/><line class="s" x1="5" y1="2261" x2="196" y2="2261"/>
<text class="m" x="100.5" y="2226">std::set&lt; G4VisAttributes * &gt;</text><text x="14" y="2251.5">+ keys</text>
</g>
<g id="set_userlimits">
<rect class="n" x="282" y="2210" width="178" height="76.5"/>
<line class="s" x1="282" y1="2235.5" x2="460" y2="2235.5"/><line class="s" x1="282" y1="2261" x2="460" y2="2261"/>
<text class="m" x="371" y="2226">std::set&lt; G4UserLimits * &gt;</text><text x="291" y="2251.5">+ keys</text>
</g>
<g id="set_rotmat">
<rect class="n" x="516" y="2210" width="201" height="76.5"/>
<line class="s" x1="516" y1="2235.5" x2="717" y2="2235.5"/><line class="s" x1="516" y1="2261" x2="717" y2="2261"/>
<text class="m" x="616.5" y="2226">std::set&lt; G4RotationMatrix * &gt;</text><text x="525" y="2251.5">+ keys</text>
</g>
<g id="set_physvol">
<rect class="n" x="757" y="2210" width="218" height="76.5"/>
<line class="s" x1="757" y1="2235.5" x2="975" y2="2235.5"/><line class="s" x1="757" y1="2261" x2="975" y2="2261"/>
<text class="m" x="866" y="2226">std::set&lt; G4VPhysicalVolume * &gt;</text><text x="766" y="2251.5">+ keys</text>
</g>
<g id="set_solid">
<rect class="n" x="1007" y="2210" width="155" height="76.5"/>
<line class="s" x1="1007" y1="2235.5" x2="1162" y2="2235.5"/><line class="s" x1="1007" y1="2261" x2="1162" y2="2261"/>
<text class="m" x="1084.5" y="2226">std::set&lt; G4VSolid * &gt;</text><text x="1016" y="2251.5">+ keys</text>
</g>
<g id="map_lv">
<rect class="n" x="1190" y="2203" width="186" height="91.2"/>
<line class="s" x1="1190" y1="2243.2" x2="1376" y2="2243.2"/><line class="s" x1="1190" y1="2268.7" x2="1376" y2="2268.7"/>
<text class="m" x="1283" y="2219">std::map&lt; G4LogicalVolume</text><text class="m" x="1283" y="2233.7">*, BDSTypeSafeEnum &gt;</text><text x="1199" y="2259.2">+ keys</text>
</g>
<g id="set_lv">
<rect class="n" x="1402" y="2210" width="202" height="76.5"/>
<line class="s" x1="1402" y1="2235.5" x2="1604" y2="2235.5"/><line class="s" x1="1402" y1="2261" x2="1604" y2="2261"/>
<text class="m" x="1503" y="2226">std::set&lt; G4LogicalVolume * &gt;</text><text x="1411" y="2251.5">+ keys</text>
</g>
<g id="set_arrayrefl">
<rect class="n" x="1872" y="2203" width="190" height="91.2"/>
<line class="s" x1="1872" y1="2243.2" x2="2062" y2="2243.2"/><line class="s" x1="1872" y1="2268.7" x2="2062" y2="2268.7"/>
<text class="m" x="1967" y="2219">std::set&lt; BDSArrayReflection</text><text class="m" x="1967" y="2233.7">Type &gt;</text>
</g>

<g id="BDSTunnelInfo">
<rect class="n" x="3524" y="2861" width="136" height="252.9"/>
<line class="s" x1="3524" y1="2886.5" x2="3660" y2="2886.5"/><line class="s" x1="3524" y1="3044.3" x2="3660" y2="3044.3"/>
<text class="m" x="3592" y="2877">BDSTunnelInfo</text>
<text x="3533" y="2902.5">+ thickness<tspan x="3533" dy="14.7">+ soilThickness</tspan><tspan x="3533" dy="14.7">+ material</tspan><tspan x="3533" dy="14.7">+ soilMaterial</tspan><tspan x="3533" dy="14.7">+ buildFloor</tspan><tspan x="3533" dy="14.7">+ floorOffset</tspan><tspan x="3533" dy="14.7">+ aper1</tspan><tspan x="3533" dy="14.7">+ aper2</tspan><tspan x="3533" dy="14.7">+ sensitive</tspan><tspan x="3533" dy="14.7">+ visible</tspan></text>
<text x="3533" y="3060.3">+ BDSTunnelInfo()<tspan x="3533" dy="14.7">+ BDSTunnelInfo()</tspan><tspan x="3533" dy="14.7">+ BDSTunnelInfo()</tspan><tspan x="3533" dy="14.7">+ IndicativeExtent()</tspan></text>
</g>

<g id="BDSFactoryBase">
<rect class="n" x="395" y="3352" width="166" height="297"/>
<line class="s" x1="395" y1="3377.5" x2="561" y2="3377.5"/><line class="s" x1="395" y1="3491.2" x2="561" y2="3491.2"/>
<text class="m" x="478" y="3368">BDSFactoryBase</text>
<text x="404" y="3393.5"># lengthSafety<tspan x="404" dy="14.7"># lengthSafetyLarge</tspan><tspan x="404" dy="14.7"># checkOverlaps</tspan><tspan x="404" dy="14.7"># visDebug</tspan><tspan x="404" dy="14.7"># nSegmentsPerCircle</tspan><tspan x="404" dy="14.7"># containerVisAttr</tspan><tspan x="404" dy="14.7"># defaultUserLimits</tspan></text>
<text x="404" y="3507.2">+ BDSFactoryBase()<tspan x="404" dy="14.7">+ ~BDSFactoryBase()</tspan><tspan x="404" dy="14.7">+ FactoryBaseCleanUp()</tspan><tspan x="404" dy="14.7">* lengthSafety</tspan><tspan x="404" dy="14.7">* lengthSafetyLarge</tspan><tspan x="404" dy="14.7">* checkOverlaps</tspan><tspan x="404" dy="14.7">* visDebug</tspan><tspan x="404" dy="14.7">* nSegmentsPerCircle</tspan><tspan x="404" dy="14.7">* containerVisAttr</tspan><tspan x="404" dy="14.7">* defaultUserLimits</tspan></text>
</g>

<g id="BDSGeometryComponent">
<rect class="n" x="1221" y="3147" width="222" height="708.6"/>
<line class="s" x1="1221" y1="3172.5" x2="1443" y2="3172.5"/><line class="s" x1="1221" y1="3286.2" x2="1443" y2="3286.2"/>
<text class="m" x="1332" y="3163">BDSGeometryComponent</text>
<text x="1230" y="3188.5"># containerIsAssembly<tspan x="1230" dy="14.7"># containerSolid</tspan><tspan x="1230" dy="14.7"># containerLogicalVolume</tspan><tspan x="1230" dy="14.7"># containerAssembly</tspan><tspan x="1230" dy="14.7"># overrideSensitivity</tspan><tspan x="1230" dy="14.7"># placementOffset</tspan><tspan x="1230" dy="14.7"># placementRotation</tspan></text>
<text x="1230" y="3302.2">+ BDSGeometryComponent()<tspan x="1230" dy="14.7">+ BDSGeometryComponent()</tspan><tspan x="1230" dy="14.7">+ BDSGeometryComponent()</tspan><tspan x="1230" dy="14.7">+ operator=()</tspan><tspan x="1230" dy="14.7">+ ~BDSGeometryComponent()</tspan><tspan x="1230" dy="14.7">+ ContainerIsAssembly()</tspan><tspan x="1230" dy="14.7">+ SetPlacementOffset()</tspan><tspan x="1230" dy="14.7">+ GetExtentPositive()</tspan><tspan x="1230" dy="14.7">+ GetExtentNegative()</tspan><tspan x="1230" dy="14.7">+ InheritExtents()</tspan><tspan x="1230" dy="14.7">and 25 more...</tspan><tspan x="1230" dy="14.7">+ GetName()</tspan><tspan x="1230" dy="14.7">+ GetContainerSolid()</tspan><tspan x="1230" dy="14.7">+ GetContainerLogicalVolume()</tspan><tspan x="1230" dy="14.7">+ GetContainerAssemblyVolume()</tspan><tspan x="1230" dy="14.7">+ GetPlacementTransform()</tspan><tspan x="1230" dy="14.7">+ GetPlacementOffset()</tspan><tspan x="1230" dy="14.7">+ GetPlacementRotation()</tspan><tspan x="1230" dy="14.7">+ GetExtent()</tspan><tspan x="1230" dy="14.7">+ GetInnerExtent()</tspan><tspan x="1230" dy="14.7">+ GetExtentX()</tspan><tspan x="1230" dy="14.7">and 11 more...</tspan><tspan x="1230" dy="14.7">+ SetExtent()</tspan><tspan x="1230" dy="14.7">+ SetInnerExtent()</tspan><tspan x="1230" dy="14.7">+ AttachUserLimitsToAssembly()</tspan><tspan x="1230" dy="14.7">* GetName()</tspan><tspan x="1230" dy="14.7">* GetContainerSolid()</tspan><tspan x="1230" dy="14.7">* GetContainerLogicalVolume()</tspan><tspan x="1230" dy="14.7">* GetContainerAssemblyVolume()</tspan><tspan x="1230" dy="14.7">* GetPlacementTransform()</tspan><tspan x="1230" dy="14.7">* GetPlacementOffset()</tspan><tspan x="1230" dy="14.7">* GetPlacementRotation()</tspan><tspan x="1230" dy="14.7">* GetExtent()</tspan><tspan x="1230" dy="14.7">* GetInnerExtent()</tspan><tspan x="1230" dy="14.7">* GetExtentX()</tspan><tspan x="1230" dy="14.7">and 11 more...</tspan><tspan x="1230" dy="14.7">* SetExtent()</tspan><tspan x="1230" dy="14.7">* SetInnerExtent()</tspan></text>
</g>

<g id="BDSFieldInfo">
<rect class="n" x="2251" y="3139" width="187" height="723.3"/>
<line class="s" x1="2251" y1="3164.5" x2="2438" y2="3164.5"/><line class="s" x1="2251" y1="3366.4" x2="2438" y2="3366.4"/>
<text class="m" x="2344.5" y="3155">BDSFieldInfo</text>
<text x="2260" y="3180.5">+ defaultUL<tspan x="2260" dy="14.7">- brho</tspan><tspan x="2260" dy="14.7">- provideGlobalTransform</tspan><tspan x="2260" dy="14.7">- transform</tspan><tspan x="2260" dy="14.7">- magneticFieldFilePath</tspan><tspan x="2260" dy="14.7">- electricFieldFilePath</tspan><tspan x="2260" dy="14.7">- cacheTransforms</tspan><tspan x="2260" dy="14.7">- eScaling</tspan><tspan x="2260" dy="14.7">- bScaling</tspan><tspan x="2260" dy="14.7">- timeOffset</tspan><tspan x="2260" dy="14.7">- autoScale</tspan><tspan x="2260" dy="14.7">and 11 more...</tspan><tspan x="2260" dy="14.7">- defaultUnitDirection</tspan></text>
<text x="2260" y="3382.4">+ BDSFieldInfo()<tspan x="2260" dy="14.7">+ BDSFieldInfo()</tspan><tspan x="2260" dy="14.7">+ ~BDSFieldInfo()</tspan><tspan x="2260" dy="14.7">+ BDSFieldInfo()</tspan><tspan x="2260" dy="14.7">+ operator=()</tspan><tspan x="2260" dy="14.7">+ Transform()</tspan><tspan x="2260" dy="14.7">+ TransformBeamline()</tspan><tspan x="2260" dy="14.7">+ TransformComplete()</tspan><tspan x="2260" dy="14.7">+ SetFieldType()</tspan><tspan x="2260" dy="14.7">+ SetIntegratorType()</tspan><tspan x="2260" dy="14.7">and 22 more...</tspan><tspan x="2260" dy="14.7">+ FieldType()</tspan><tspan x="2260" dy="14.7">+ BRho()</tspan><tspan x="2260" dy="14.7">+ IntegratorType()</tspan><tspan x="2260" dy="14.7">+ MagnetStrength()</tspan><tspan x="2260" dy="14.7">+ ProvideGlobal()</tspan><tspan x="2260" dy="14.7">+ MagneticFile()</tspan><tspan x="2260" dy="14.7">+ MagneticFormat()</tspan><tspan x="2260" dy="14.7">+ MagneticInterpolatorType()</tspan><tspan x="2260" dy="14.7">+ ElectricFile()</tspan><tspan x="2260" dy="14.7">+ ElectricFormat()</tspan><tspan x="2260" dy="14.7">and 18 more...</tspan><tspan x="2260" dy="14.7">* FieldType()</tspan><tspan x="2260" dy="14.7">* BRho()</tspan><tspan x="2260" dy="14.7">* IntegratorType()</tspan><tspan x="2260" dy="14.7">* MagnetStrength()</tspan><tspan x="2260" dy="14.7">* ProvideGlobal()</tspan><tspan x="2260" dy="14.7">* MagneticFile()</tspan><tspan x="2260" dy="14.7">* MagneticFormat()</tspan><tspan x="2260" dy="14.7">* MagneticInterpolatorType()</tspan><tspan x="2260" dy="14.7">* ElectricFile()</tspan><tspan x="2260" dy="14.7">* ElectricFormat()</tspan><tspan x="2260" dy="14.7">and 18 more...</tspan></text>
</g>

<g id="BDSAcceleratorComponent">
<rect class="n" x="2138" y="3925" width="211" height="1220"/>
<line class="s" x1="2138" y1="3950.5" x2="2349" y2="3950.5"/><line class="s" x1="2138" y1="4240.6" x2="2349" y2="4240.6"/>
<text class="m" x="2243.5" y="3941">BDSAcceleratorComponent</text>
<text x="2147" y="3966.5">+ lengthSafetyLarge<tspan x="2147" dy="14.7"># userLimits</tspan><tspan x="2147" dy="14.7"># name</tspan><tspan x="2147" dy="14.7"># arcLength</tspan><tspan x="2147" dy="14.7"># type</tspan><tspan x="2147" dy="14.7"># chordLength</tspan><tspan x="2147" dy="14.7"># angle</tspan><tspan x="2147" dy="14.7"># region</tspan><tspan x="2147" dy="14.7"># lengthSafety</tspan><tspan x="2147" dy="14.7"># emptyMaterial</tspan><tspan x="2147" dy="14.7"># worldMaterial</tspan><tspan x="2147" dy="14.7"># checkOverlaps</tspan><tspan x="2147" dy="14.7"># sensitiveOuter</tspan><tspan x="2147" dy="14.7"># sensitiveVacuum</tspan><tspan x="2147" dy="14.7"># containerVisAttr</tspan><tspan x="2147" dy="14.7">- initialised</tspan><tspan x="2147" dy="14.7">- copyNumber</tspan><tspan x="2147" dy="14.7">- inputFaceNormal</tspan><tspan x="2147" dy="14.7">- outputFaceNormal</tspan></text>
<text x="2147" y="4256.6">+ BDSAcceleratorComponent()<tspan x="2147" dy="14.63">+ ~BDSAcceleratorComponent()</tspan><tspan x="2147" dy="14.63">+ Initialise()</tspan><tspan x="2147" dy="14.63">+ SetRegion()</tspan><tspan x="2147" dy="14.63">+ SetField()</tspan><tspan x="2147" dy="14.63">+ SetMinimumKineticEnergy()</tspan><tspan x="2147" dy="14.63">+ GetName()</tspan><tspan x="2147" dy="14.63">+ GetAngle()</tspan><tspan x="2147" dy="14.63">+ Sagitta()</tspan><tspan x="2147" dy="14.63">+ GetType()</tspan><tspan x="2147" dy="14.63">and 11 more...</tspan><tspan x="2147" dy="14.63">+ SetBiasVacuumList()</tspan><tspan x="2147" dy="14.63">+ SetBiasMaterialList()</tspan><tspan x="2147" dy="14.63">+ GetArcLength()</tspan><tspan x="2147" dy="14.63">+ GetChordLength()</tspan><tspan x="2147" dy="14.63">+ InputFaceNormal()</tspan><tspan x="2147" dy="14.63">+ OutputFaceNormal()</tspan><tspan x="2147" dy="14.63">+ AngledInputFace()</tspan><tspan x="2147" dy="14.63">+ AngledOutputFace()</tspan><tspan x="2147" dy="14.63">+ GetBiasVacuumList()</tspan><tspan x="2147" dy="14.63">+ GetBiasMaterialList()</tspan><tspan x="2147" dy="14.63">+ SetInputFaceNormal()</tspan><tspan x="2147" dy="14.63">+ SetOutputFaceNormal()</tspan><tspan x="2147" dy="14.63"># Build()</tspan><tspan x="2147" dy="14.63"># BuildContainerLogicalVolume()</tspan><tspan x="2147" dy="14.63"># SetAcceleratorVacuumLogical</tspan><tspan x="2147" dy="14.63">Volume()</tspan><tspan x="2147" dy="14.63"># SetAcceleratorVacuumLogical</tspan><tspan x="2147" dy="14.63">Volume()</tspan><tspan x="2147" dy="14.63"># BuildUserLimits()</tspan><tspan x="2147" dy="14.63"># AttachUserLimits()</tspan><tspan x="2147" dy="14.63">- BDSAcceleratorComponent()</tspan><tspan x="2147" dy="14.63">- operator=()</tspan><tspan x="2147" dy="14.63">- BDSAcceleratorComponent()</tspan><tspan x="2147" dy="14.63">* name</tspan><tspan x="2147" dy="14.63">* arcLength</tspan><tspan x="2147" dy="14.63">* type</tspan><tspan x="2147" dy="14.63">* chordLength</tspan><tspan x="2147" dy="14.63">* angle</tspan><tspan x="2147" dy="14.63">* region</tspan><tspan x="2147" dy="14.63">* lengthSafety</tspan><tspan x="2147" dy="14.63">* emptyMaterial</tspan><tspan x="2147" dy="14.63">* worldMaterial</tspan><tspan x="2147" dy="14.63">* checkOverlaps</tspan><tspan x="2147" dy="14.63">* sensitiveOuter</tspan><tspan x="2147" dy="14.63">* sensitiveVacuum</tspan><tspan x="2147" dy="14.63">* containerVisAttr</tspan><tspan x="2147" dy="14.63">* SetBiasVacuumList()</tspan><tspan x="2147" dy="14.63">* SetBiasMaterialList()</tspan><tspan x="2147" dy="14.63">* GetArcLength()</tspan><tspan x="2147" dy="14.63">* GetChordLength()</tspan><tspan x="2147" dy="14.63">* InputFaceNormal()</tspan><tspan x="2147" dy="14.63">* OutputFaceNormal()</tspan><tspan x="2147" dy="14.63">* AngledInputFace()</tspan><tspan x="2147" dy="14.63">* AngledOutputFace()</tspan><tspan x="2147" dy="14.63">* GetBiasVacuumList()</tspan><tspan x="2147" dy="14.63">* GetBiasMaterialList()</tspan><tspan x="2147" dy="14.63">* SetInputFaceNormal()</tspan><tspan x="2147" dy="14.63">* SetOutputFaceNormal()</tspan><tspan x="2147" dy="14.63">* operator=()</tspan><tspan x="2147" dy="14.63">* BDSAcceleratorComponent()</tspan></text>
</g>

<g id="set_geomcomp">
<rect class="n" x="1215" y="4400" width="217" height="76.5"/>
<line class="s" x1="1215" y1="4425.5" x2="1432" y2="4425.5"/><line class="s" x1="1215" y1="4451" x2="1432" y2="4451"/>
<text class="m" x="1323.5" y="4416">std::set&lt; BDSGeometryComponent * &gt;</text>
</g>

<g id="BDSTunnelSection">
<rect class="n" x="1758" y="5225" width="210" height="208.8"/>
<line class="s" x1="1758" y1="5250.5" x2="1968" y2="5250.5"/><line class="s" x1="1758" y1="5276" x2="1968" y2="5276"/>
<text class="m" x="1863" y="5241">BDSTunnelSection</text>
<text x="1767" y="5266.5"># innerIntersectionSolid</text>
<text x="1767" y="5292">+ BDSTunnelSection()<tspan x="1767" dy="14.7">+ ~BDSTunnelSection()</tspan><tspan x="1767" dy="14.7">+ Initialise()</tspan><tspan x="1767" dy="14.7">+ InnerIntersectionSolid()</tspan><tspan x="1767" dy="14.7"># BuildContainerLogicalVolume()</tspan><tspan x="1767" dy="14.7">- BDSTunnelSection()</tspan><tspan x="1767" dy="14.7">- operator=()</tspan><tspan x="1767" dy="14.7">- BDSTunnelSection()</tspan><tspan x="1767" dy="14.7">* operator=()</tspan><tspan x="1767" dy="14.7">* BDSTunnelSection()</tspan></text>
</g>

<g id="BDSSimpleComponent">
<rect class="n" x="2138" y="5240" width="210" height="179.4"/>
<line class="s" x1="2138" y1="5265.5" x2="2348" y2="5265.5"/><line class="s" x1="2138" y1="5291" x2="2348" y2="5291"/>
<text class="m" x="2243" y="5256">BDSSimpleComponent</text>
<text x="2147" y="5307">+ BDSSimpleComponent()<tspan x="2147" dy="14.7">+ BDSSimpleComponent()</tspan><tspan x="2147" dy="14.7">+ ~BDSSimpleComponent()</tspan><tspan x="2147" dy="14.7">+ BDSSimpleComponent()</tspan><tspan x="2147" dy="14.7">+ operator=()</tspan><tspan x="2147" dy="14.7">+ BDSSimpleComponent()</tspan><tspan x="2147" dy="14.7"># Build()</tspan><tspan x="2147" dy="14.7"># BuildContainerLogicalVolume()</tspan></text>
</g>

<g id="BDSTunnelFactoryBase">
<rect class="g" x="1517" y="5499" width="218" height="487"/>
<line class="s" x1="1517" y1="5524.5" x2="1735" y2="5524.5"/><line class="s" x1="1517" y1="5697" x2="1735" y2="5697"/>
<text class="m" x="1626" y="5515">BDSTunnelFactoryBase</text>
<text x="1526" y="5540.5"># containerSolid<tspan x="1526" dy="14.7"># tunnelSolid</tspan><tspan x="1526" dy="14.7"># soilSolid</tspan><tspan x="1526" dy="14.7"># floorSolid</tspan><tspan x="1526" dy="14.7"># intersectionSolid</tspan><tspan x="1526" dy="14.7"># containerLV</tspan><tspan x="1526" dy="14.7"># tunnelLV</tspan><tspan x="1526" dy="14.7"># soilLV</tspan><tspan x="1526" dy="14.7"># floorLV</tspan><tspan x="1526" dy="14.7"># floorDisplacement</tspan><tspan x="1526" dy="14.7"># cumulativeAngle</tspan></text>
<text x="1526" y="5713">+ CreateTunnelSection()<tspan x="1526" dy="14.7">+ CreateTunnelSectionAngledIn()</tspan><tspan x="1526" dy="14.7">+ CreateTunnelSectionAngled</tspan><tspan x="1526" dy="14.7">Out()</tspan><tspan x="1526" dy="14.7">+ CreateTunnelSectionAngled</tspan><tspan x="1526" dy="14.7">InOut()</tspan><tspan x="1526" dy="14.7">+ CreateTunnelSectionAngled()</tspan><tspan x="1526" dy="14.7">+ ~BDSTunnelFactoryBase()</tspan><tspan x="1526" dy="14.7"># BDSTunnelFactoryBase()</tspan><tspan x="1526" dy="14.7"># CommontTestInputParameters()</tspan><tspan x="1526" dy="14.7"># CommonConstruction()</tspan><tspan x="1526" dy="14.7"># BuildLogicalVolumes()</tspan><tspan x="1526" dy="14.7"># SetVisAttributes()</tspan><tspan x="1526" dy="14.7"># SetUserLimits()</tspan><tspan x="1526" dy="14.7"># PrepareGeometryComponent()</tspan><tspan x="1526" dy="14.7"># PrepareTunnelSection()</tspan><tspan x="1526" dy="14.7"># SetSensitiveVolumes()</tspan><tspan x="1526" dy="14.7"># PlaceComponents()</tspan><tspan x="1526" dy="14.7"># CleanUp()</tspan></text>
</g>
</svg>
